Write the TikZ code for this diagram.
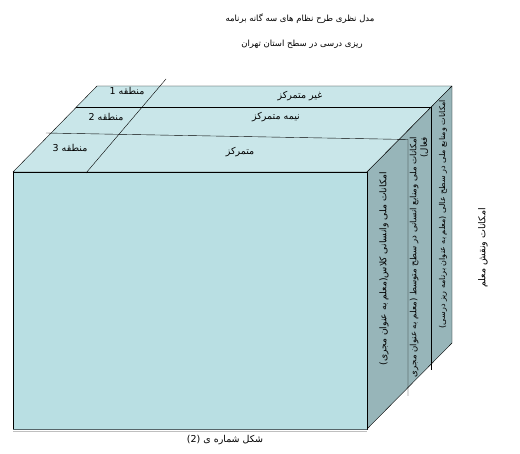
\documentclass[tikz,border=0pt]{standalone}
\usepackage{fontspec}
\newfontfamily\arabicfont[Script=Arabic]{DejaVu Sans}
\TeXXeTstate=1
\newcommand{\prs}[1]{{\arabicfont\beginR #1\endR}}
\definecolor{topc}{HTML}{C9E6E9}
\definecolor{frontc}{HTML}{B9DFE3}
\definecolor{sidec}{HTML}{97B5B9}
\definecolor{edgec}{HTML}{56666A}
\begin{document}
\begin{tikzpicture}[x=1pt,y=-1pt,line join=round,
  lab/.style={inner sep=0pt,font=\fontsize{9.5}{11}\selectfont},
  sidelab/.style={inner sep=0pt,rotate=90,font=\fontsize{8.6}{10.5}\selectfont}]
\useasboundingbox (0,0) rectangle (520,454);
% faces
\filldraw[fill=topc,draw=black] (13,172) -- (97,86) -- (452,86) -- (367,172) -- cycle;
\filldraw[fill=sidec,draw=black] (367,172) -- (452,86) -- (452,343) -- (367,429) -- cycle;
\filldraw[fill=frontc,draw=black] (13,172) rectangle (367,429);
\draw[edgec,line width=1.2pt] (13,429.5) -- (367,429.5);
\draw[black!25,line width=0.8pt] (13,431.2) -- (367,431.2);
% zone lines
\draw (76,107) -- (431,107) -- (431,370);
\draw (46,133) -- (408,139.5) -- (408,396);
\draw (166,79) -- (86,173);
% title
\node[lab,font=\fontsize{8.5}{10}\selectfont] (t1) at (300,19) {\prs{مدل نظری طرح نظام های سه گانه برنامه}};
\node[lab,font=\fontsize{8.5}{10}\selectfont] (t2) at (302,44) {\prs{ریزی درسی در سطح استان تهران}};
% top face labels
\node[lab] (z1) at (127,91) {\prs{منطقه 1}};
\node[lab] (z2) at (106,117) {\prs{منطقه 2}};
\node[lab] (z3) at (70,148) {\prs{منطقه 3}};
\node[lab] (c1) at (300,96) {\prs{غیر متمرکز}};
\node[lab] (c2) at (276,117) {\prs{نیمه متمرکز}};
\node[lab] (c3) at (240,152) {\prs{متمرکز}};
% side face labels
\node[sidelab,font=\fontsize{9.2}{11}\selectfont] (s1) at (384,269) {\prs{امکانات ملی وانسانی کلاس(معلم به عنوان مجری)}};
\node[sidelab,align=right] (s2) at (419,257) {\prs{امکانات ملی ومنابع انسانی در سطح متوسط (معلم به عنوان مجری}\\\prs{فعال)}};
\node[sidelab,font=\fontsize{8}{10}\selectfont] (s3) at (443,214) {\prs{امکانات ومنابع ملی در سطح عالی (معلم به عنوان برنامه ریز درسی)}};
% outside label
\node[lab,rotate=90] (r) at (483,248) {\prs{امکانات ونقش معلم}};
% caption
\node[lab,font=\fontsize{9.5}{11}\selectfont] (cap) at (225,440) {\prs{شکل شماره ی (2)}};
\end{tikzpicture}
\end{document}
